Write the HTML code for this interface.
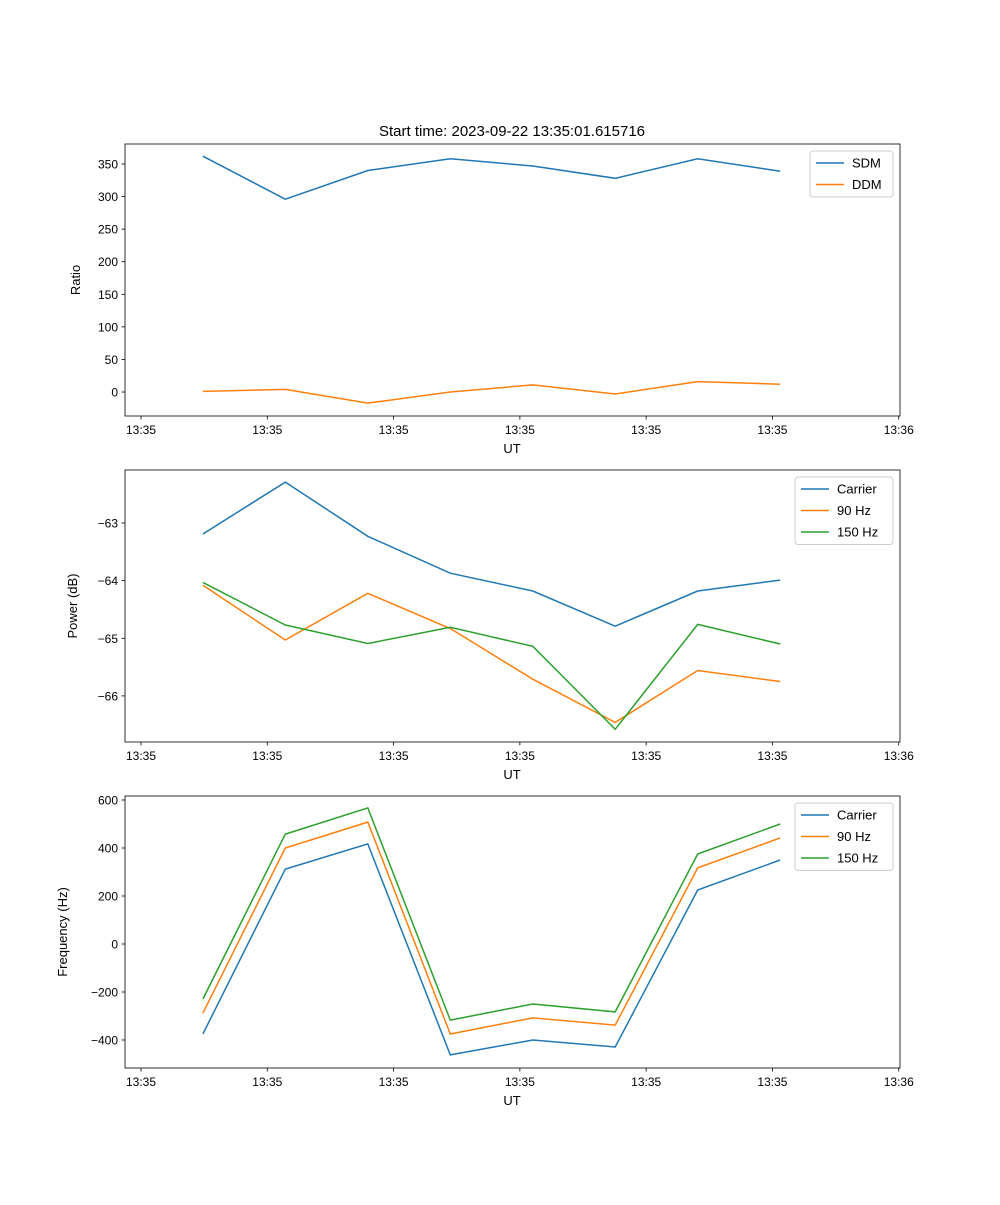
<!DOCTYPE html>
<html><head><meta charset="utf-8"><style>
body{margin:0;background:#fff;}
svg text{font-family:"Liberation Sans","DejaVu Sans",sans-serif;fill:#000;}
</style></head><body>
<svg id="fig" width="1000" height="1200" xmlns="http://www.w3.org/2000/svg"></svg>
<script>
const tickSecs=[0,10,20,30,40,50,60];
const tickLabels=["13:35","13:35","13:35","13:35","13:35","13:35","13:36"];
const timeSecs=[4.9,11.43,17.96,24.49,31.02,37.55,44.08,50.61];
const sdm=[362,296,340,358,347,328,358,339];
const ddm=[1,4,-17,0,11,-3,16,12];
const pwrCarrier=[-63.19,-62.29,-63.23,-63.87,-64.18,-64.79,-64.18,-63.99];
const pwr90=[-64.08,-65.03,-64.22,-64.83,-65.71,-66.46,-65.56,-65.75];
const pwr150=[-64.03,-64.77,-65.09,-64.81,-65.14,-66.58,-64.76,-65.10];
const frqCarrier=[-375,312,417,-462,-400,-429,225,350];
const frq90=[-288,400,508,-375,-308,-338,317,442];
const frq150=[-229,458,567,-317,-250,-283,375,500];
const yt1=[0,50,100,150,200,250,300,350];
const yt2=[-63,-64,-65,-66];
const yt3=[-400,-200,0,200,400,600];

const NS="http://www.w3.org/2000/svg";
const svg=document.getElementById('fig');
function mk(tag,attrs,parent){const e=document.createElementNS(NS,tag);for(const k in attrs)e.setAttribute(k,attrs[k]);(parent||svg).appendChild(e);return e;}
const L=125,R=900,X0=-1.267,X1=60.1;
function sx(t){return L+(t-X0)/(X1-X0)*(R-L);}
const C=['#1f77b4','#ff7f0e','#2ca02c'];

function panel(id,top,ymin,ymax,yticks,fmt,ylabel,series,names,legend){
  const bot=top+272;
  const sy=v=>bot-(v-ymin)/(ymax-ymin)*272;
  const g=mk('g',{});
  
  
  series.forEach((s,i)=>{
    const p=mk('polyline',{points:s.map((v,j)=>sx(timeSecs[j]).toFixed(1)+','+sy(v).toFixed(1)).join(' '),fill:'none',stroke:C[i],'stroke-width':1.5},g);
    
    
  });
  const fr=mk('rect',{x:L,y:top,width:R-L,height:272,fill:'none',stroke:'#000','stroke-width':0.8},g);
  
  
  tickSecs.forEach((t,i)=>{
    const x=sx(t);
    mk('line',{x1:x,x2:x,y1:bot,y2:bot+3.5,stroke:'#000','stroke-width':0.8},g);
    const tx=mk('text',{x:x,y:bot+18,'font-size':12,'text-anchor':'middle'},g);tx.textContent=tickLabels[i];
    
    
  });
  yticks.forEach(v=>{
    const y=sy(v);
    mk('line',{x1:L,x2:L-3.5,y1:y,y2:y,stroke:'#000','stroke-width':0.8},g);
    const tx=mk('text',{x:L-7,y:y+4.5,'font-size':12,'text-anchor':'end'},g);tx.textContent=fmt(v);
    
    
  });
  const xl=mk('text',{x:512,y:bot+37,'font-size':13,'text-anchor':'middle'},g);xl.textContent='UT';
  
  
  const yl=mk('text',{x:0,y:0,'font-size':13,'text-anchor':'middle',transform:`translate(${legend.yl},${top+136}) rotate(-90)`},g);yl.textContent=ylabel;
  
  
  const lg=mk('g',{},g);
  
  
  mk('rect',{x:legend.x,y:top+7,width:893-legend.x,height:names.length*21.5+3,rx:3,fill:'#fff',stroke:'#ccc','stroke-width':1},lg);
  names.forEach((n,i)=>{
    const y=top+19+i*21.5;
    mk('line',{x1:legend.x+6,x2:legend.x+34,y1:y,y2:y,stroke:C[i],'stroke-width':1.5},lg);
    const t=mk('text',{x:legend.x+42,y:y+4.5,'font-size':13},lg);t.textContent=n;
    
    
  });
}
const ttl=mk('text',{x:512,y:136,'font-size':15,'text-anchor':'middle'});ttl.textContent='Start time: 2023-09-22 13:35:01.615716';


const fmtMinus=v=>(v<0?'\u2212'+(-v):''+v);
panel('ratio',144,-36.8,380.7,yt1,fmtMinus,'Ratio',[sdm,ddm],['SDM','DDM'],{x:810,yl:80});
panel('power',470,-66.80,-62.08,yt2,fmtMinus,'Power (dB)',[pwrCarrier,pwr90,pwr150],['Carrier','90 Hz','150 Hz'],{x:795,yl:77});
panel('frequency',796,-516.7,616.7,yt3,fmtMinus,'Frequency (Hz)',[frqCarrier,frq90,frq150],['Carrier','90 Hz','150 Hz'],{x:795,yl:67});
</script>
</body></html>
